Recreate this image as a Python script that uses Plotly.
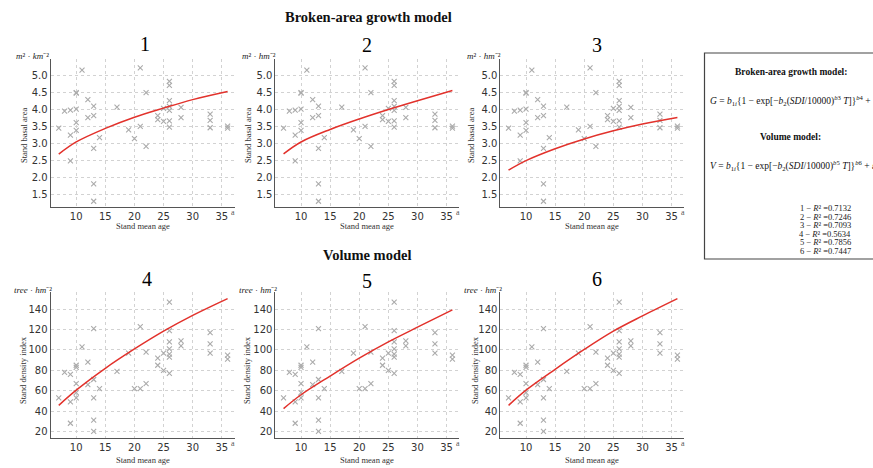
import plotly.graph_objects as go

# ---------------- data ----------------
ages_ba = [7, 8, 9, 9, 9, 10, 10, 10, 10, 10, 11, 12, 12, 13, 13, 13, 13, 13, 14, 17, 19, 20,
           21, 21, 22, 22, 24, 24, 25, 25, 26, 26, 26, 26, 26, 26, 26, 28, 28, 33, 33, 33, 36, 36]
basal_area = [3.46, 3.96, 3.99, 3.25, 2.49, 4.51, 4.49, 4.02, 3.62, 3.39, 5.17, 4.30, 3.77, 4.11, 3.83,
              2.86, 1.81, 1.30, 3.18, 4.08, 3.41, 3.15, 5.24, 3.51, 4.51, 2.92, 3.83, 3.71, 4.04, 3.66,
              4.84, 4.72, 4.27, 4.10, 3.98, 3.67, 3.49, 4.07, 3.77, 3.87, 3.69, 3.47, 3.52, 3.46]

ages_sdi = [7, 8, 9, 9, 9, 10, 10, 10, 10, 10, 11, 12, 12, 13, 13, 13, 13, 13, 14, 17, 19, 20,
            21, 21, 22, 22, 24, 24, 25, 25, 26, 26, 26, 26, 26, 26, 26, 28, 28, 33, 33, 33, 36, 36]
sdi = [53, 78, 76, 49, 28, 85, 83, 67, 58, 53, 103, 88, 66, 121, 71, 53, 31, 20, 62, 79, 97, 62,
       123, 62, 98, 67, 92, 85, 97, 80, 147, 119, 108, 101, 96, 93, 77, 109, 104, 117, 106, 97, 95, 91]

fit_age = [7, 10, 15, 20, 25, 30, 36]
fit1 = [2.69, 3.05, 3.45, 3.78, 4.05, 4.30, 4.54]
fit2 = [2.70, 3.05, 3.42, 3.73, 4.01, 4.27, 4.57]
fit3 = [2.22, 2.50, 2.85, 3.14, 3.38, 3.58, 3.77]
fit4 = [45.6, 60.5, 82.0, 101.0, 118.5, 134.0, 150.5]
fit5 = [42.4, 56.0, 74.4, 92.0, 108.0, 122.4, 139.4]
fit6 = [45.6, 60.5, 81.0, 100.5, 118.5, 133.5, 150.5]

r2_labels = ["1", "2", "3", "4", "5", "6"]
r2_values = ["0.7132", "0.7246", "0.7093", "0.5634", "0.7856", "0.7447"]

x_ticks = [10, 15, 20, 25, 30, 35]
ba_ticks = [1.5, 2.0, 2.5, 3.0, 3.5, 4.0, 4.5, 5.0]
sdi_ticks = [20, 40, 60, 80, 100, 120, 140]

# ---------------- layout helpers ----------------
W, H = 873, 468
SERIF = "Liberation Serif"
SANS = "DejaVu Sans"


def px(x):
    return x / W


def py(y):
    return 1 - y / H


x_dom_px = [(50.6, 234.6), (275.4, 459.4), (500.4, 684.4)]
y_dom_px = [(59, 207), (292, 438)]

fig = go.Figure()

fits_top = [fit1, fit2, fit3]
fits_bot = [fit4, fit5, fit6]

layout_axes = {}
for i in range(6):
    row = i // 3
    col = i % 3
    n = i + 1
    xa = "x" if n == 1 else f"x{n}"
    ya = "y" if n == 1 else f"y{n}"
    if row == 0:
        xs, ys, fit = ages_ba, basal_area, fits_top[col]
    else:
        xs, ys, fit = ages_sdi, sdi, fits_bot[col]
    fig.add_trace(go.Scatter(
        x=xs, y=ys, mode="markers", xaxis=xa, yaxis=ya, showlegend=False,
        marker=dict(symbol="x-thin-open", size=5, color="#ababab",
                    line=dict(color="#ababab", width=1.1)),
        hoverinfo="skip"))
    fig.add_trace(go.Scatter(
        x=fit_age, y=fit, mode="lines", xaxis=xa, yaxis=ya, showlegend=False,
        line=dict(color="#e2322c", width=1.5, shape="spline", smoothing=1.0),
        hoverinfo="skip"))

    x0, x1 = x_dom_px[col]
    yt, yb = y_dom_px[row]
    common = dict(showgrid=True, gridcolor="#d2d2d2", griddash="dot", gridwidth=1,
                  showline=True, linecolor="#555555", linewidth=1, zeroline=False,
                  ticks="", tickfont=dict(family=SANS, size=10, color="#333333"))
    layout_axes["xaxis" if n == 1 else f"xaxis{n}"] = dict(
        domain=[px(x0), px(x1)], anchor=ya, range=[5.6, 37.2],
        tickvals=x_ticks, **common)
    if row == 0:
        yax = dict(domain=[py(yb), py(yt)], anchor=xa, range=[1.13, 5.5],
                   tickvals=ba_ticks, tickformat=".1f", **common)
    else:
        yax = dict(domain=[py(yb), py(yt)], anchor=xa, range=[13.5, 157],
                   tickvals=sdi_ticks, **common)
    layout_axes["yaxis" if n == 1 else f"yaxis{n}"] = yax

fig.update_layout(**layout_axes)

ann = []


def add_text(x, y, text, size=10, family=SERIF, color="#111111", xanchor="center",
             yanchor="middle", angle=0):
    ann.append(dict(x=px(x), y=py(y), xref="paper", yref="paper", text=text, showarrow=False,
                    xanchor=xanchor, yanchor=yanchor, textangle=angle,
                    font=dict(family=family, size=size, color=color)))


# section titles
add_text(368, 17, "<b>Broken-area growth model</b>", size=14.5)
add_text(367, 255, "<b>Volume model</b>", size=14.5)

# panel numbers
num_pos = [(145, 44), (367, 45), (597, 45), (147, 279), (367, 281), (597, 279)]
for k, (xx, yy) in enumerate(num_pos):
    add_text(xx, yy, str(k + 1), size=20, color="#000000")

# y titles
ytitle_x_top = [24, 248, 471]
ytitle_x_bot = [23, 247, 475]
for c in range(3):
    add_text(ytitle_x_top[c], 136, "Stand basal area", size=8.5, angle=-90, color="#333333")
    add_text(ytitle_x_bot[c], 370, "Stand density index", size=8.5, angle=-90, color="#333333")

# unit labels
unit_top = ["<i>m</i>² · <i>km</i>⁻²",
            "<i>m</i>² · <i>hm</i>⁻²",
            "<i>m</i>² · <i>hm</i>⁻²"]
unit_top_x = [32, 259, 484]
unit_bot_x = [33, 258, 483]
for c in range(3):
    add_text(unit_top_x[c], 56, unit_top[c], size=9, color="#222222")
    add_text(unit_bot_x[c], 290, "<i>tree</i> · <i>hm</i>⁻²", size=9, color="#222222")

# x titles
xt_x = [142.6, 367.4, 592.4]
for c in range(3):
    add_text(xt_x[c], 226, "Stand mean age", size=8.5, color="#333333")
    add_text(xt_x[c], 460, "Stand mean age", size=8.5, color="#333333")
    add_text(x_dom_px[c][1] - 1.5, 213, "a", size=8, family=SERIF, color="#555555")
    add_text(x_dom_px[c][1] - 1.5, 443, "a", size=8, family=SERIF, color="#555555")

# formula box
add_text(791, 72, "<b>Broken-area growth model:</b>", size=9.5, color="#111111")
add_text(708, 100, "<i>G</i> = <i>b</i><sub>1<i>i</i></sub>{1 − exp[−<i>b</i><sub>2</sub>"
                   "(<i>SDI</i>/10000)<sup><i>b</i>3</sup> <i>T</i>]}<sup><i>b</i>4</sup> + <i>ε</i>",
         size=9.5, xanchor="left", color="#111111")
add_text(790, 137, "<b>Volume model:</b>", size=9.5, color="#111111")
add_text(708, 165, "<i>V</i> = <i>b</i><sub>1<i>i</i></sub>{1 − exp[−<i>b</i><sub>2</sub>"
                   "(<i>SDI</i>/10000)<sup><i>b</i>5</sup> <i>T</i>]}<sup><i>b</i>6</sup> + <i>ε</i>",
         size=9.5, xanchor="left", color="#111111")
r2_y = [208, 216.6, 225.2, 233.8, 242.4, 251]
for k in range(6):
    add_text(825, r2_y[k], f"{r2_labels[k]} − <i>R</i>² ={r2_values[k]}", size=8.5,
             color="#222222")

fig.update_layout(
    annotations=ann,
    shapes=[dict(type="rect", xref="paper", yref="paper", x0=px(704.5), x1=px(885),
                 y0=py(259), y1=py(53), line=dict(color="#444444", width=1.2))],
    width=W, height=H, margin=dict(l=0, r=0, t=0, b=0),
    paper_bgcolor="white", plot_bgcolor="white", showlegend=False,
)

fig.write_html(
    "out.html",
    config={"displayModeBar": False},
    post_script="document.body.style.margin='0';document.body.style.overflow='hidden';",
)
